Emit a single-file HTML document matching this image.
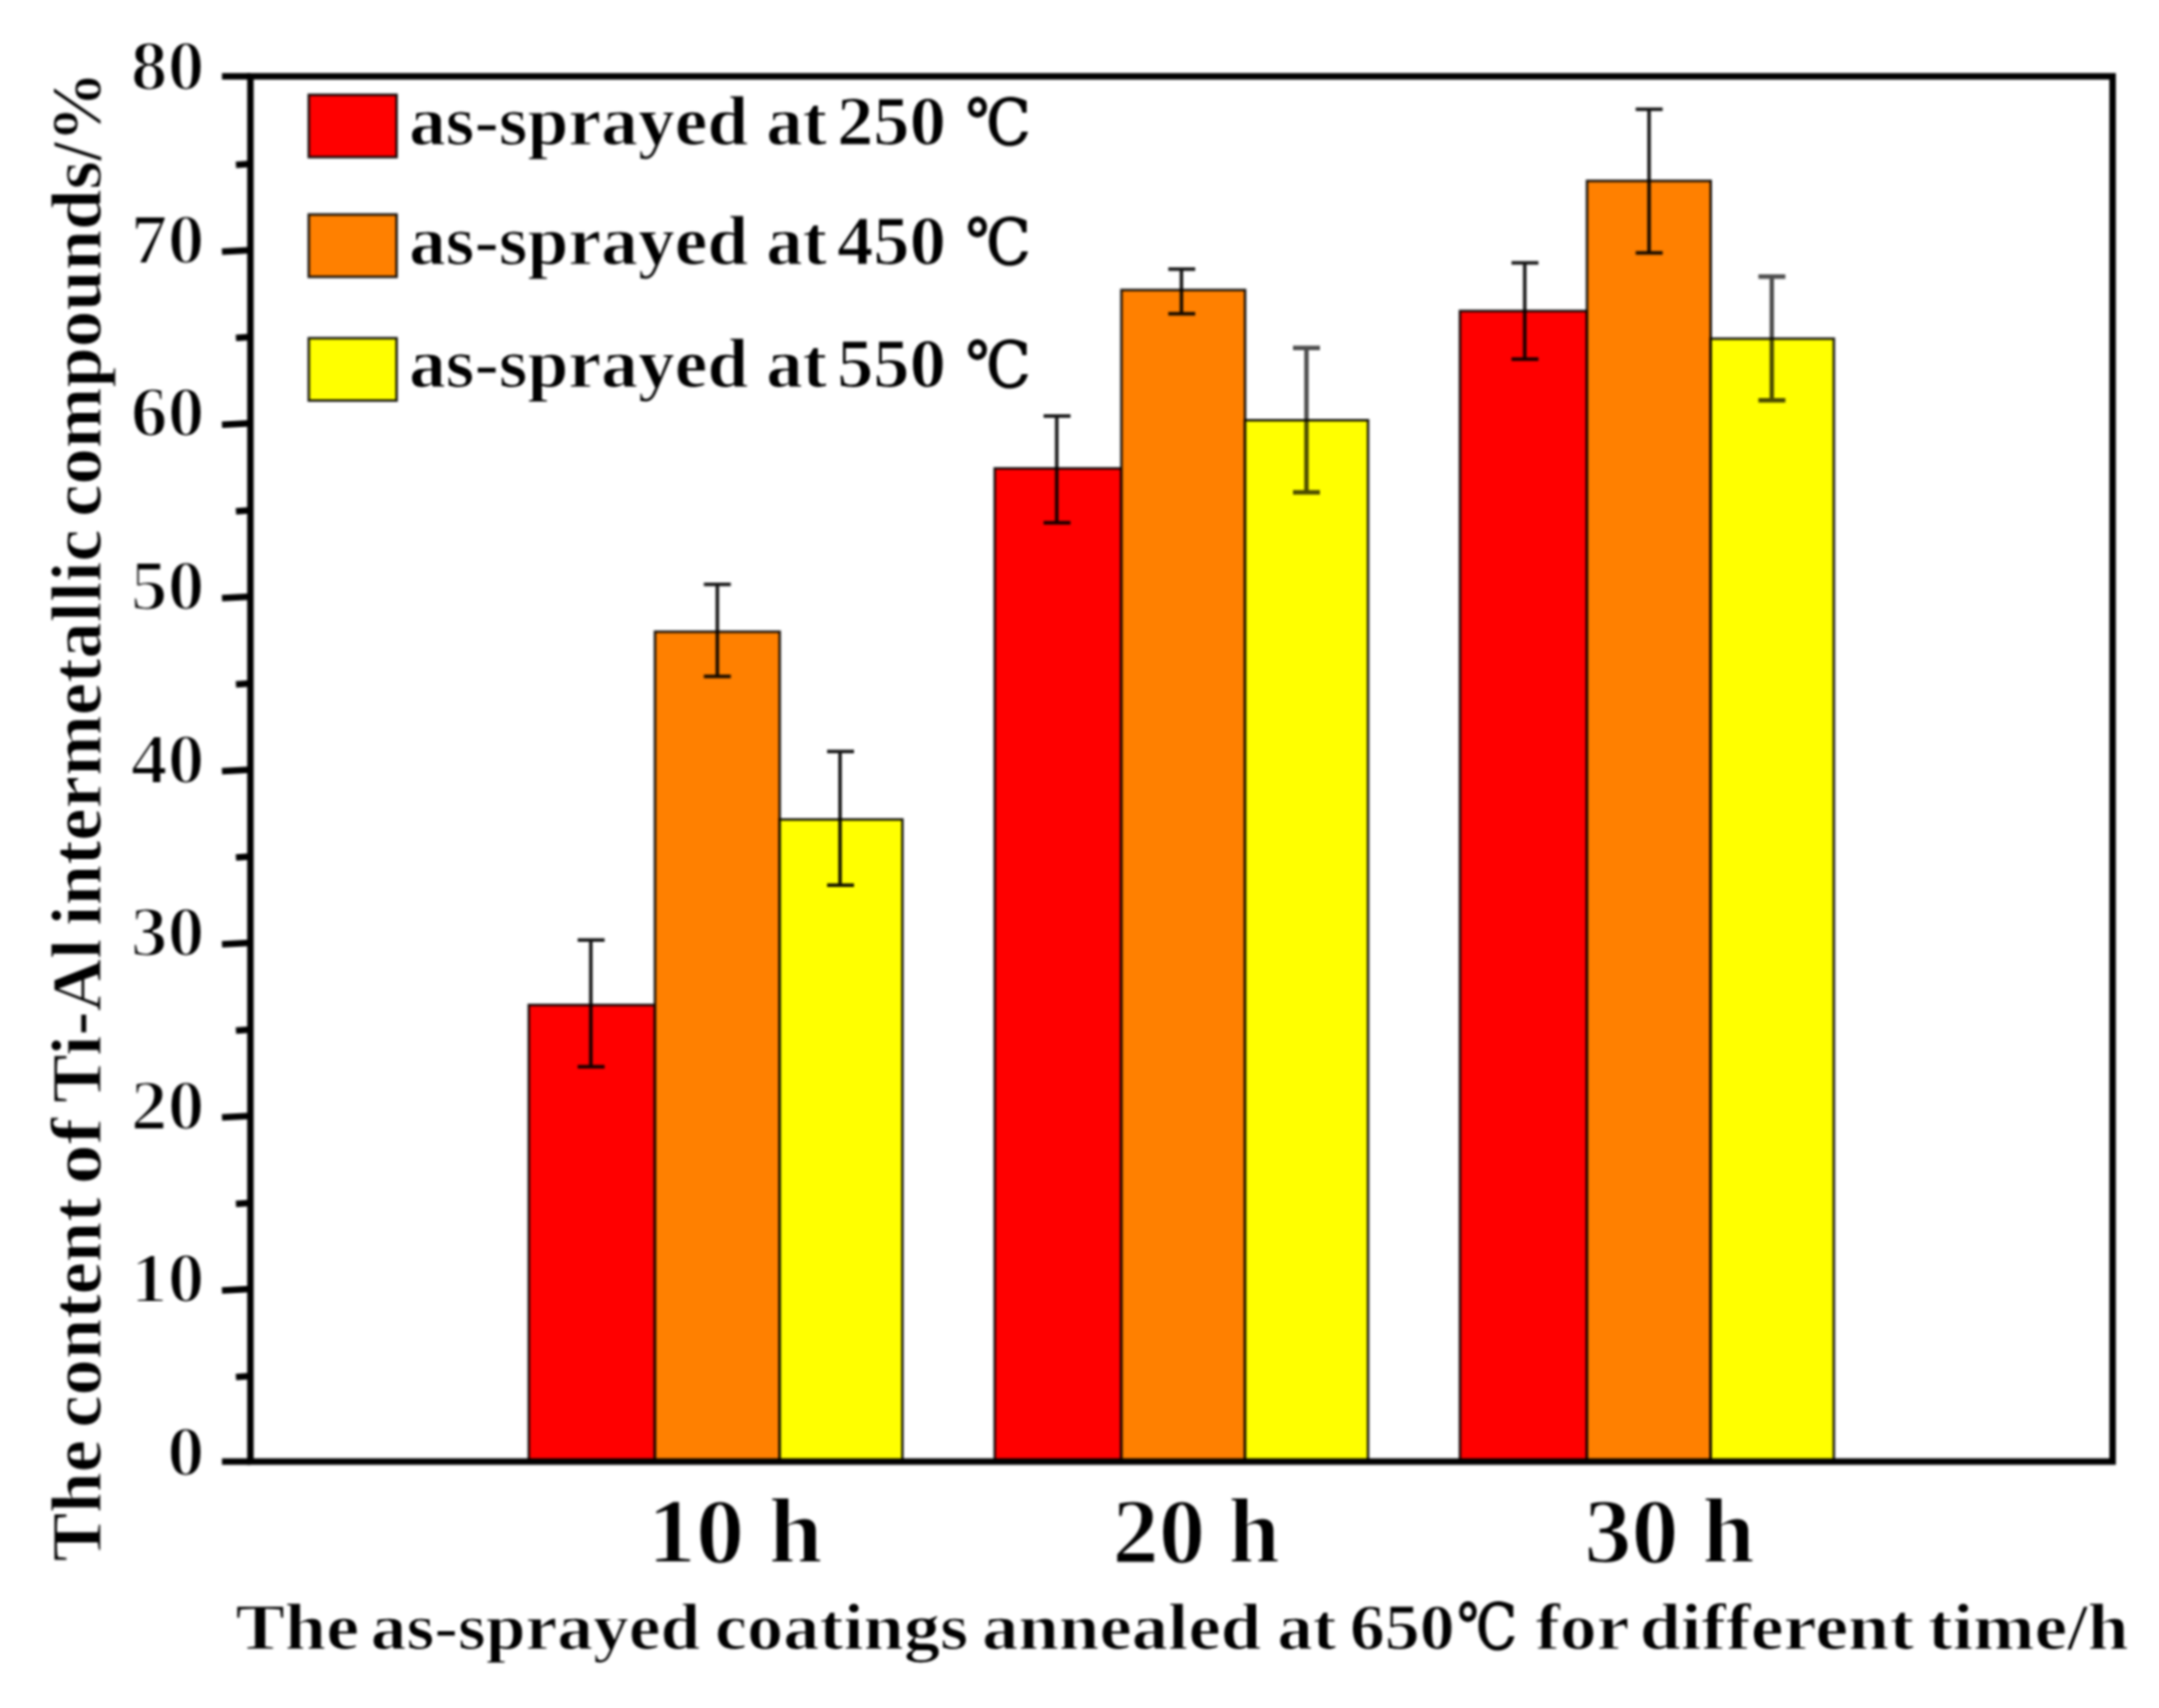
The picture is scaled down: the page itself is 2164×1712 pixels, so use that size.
<!DOCTYPE html>
<html lang="en">
<head>
<meta charset="utf-8">
<title>Ti-Al intermetallic compounds content</title>
<style>
html,body{margin:0;padding:0;background:#fff;}
body{width:2164px;height:1712px;overflow:hidden;}
svg{display:block;filter:blur(0.9px);}
text{font-family:"Liberation Serif","Noto Serif CJK SC",serif;font-weight:bold;fill:#000;stroke:#fff;stroke-width:1.1px;}
.ax{stroke:#000;stroke-width:6.5;fill:none;stroke-linecap:butt;}
.bar{stroke:#000;stroke-opacity:.9;stroke-width:2.5;}
.err{stroke:#000;stroke-opacity:.92;stroke-width:3.5;fill:none;}
.err .g{stroke-opacity:.7;stroke-width:4.4;}
.tl{font-size:71px;text-anchor:end;}
.tl text{stroke-width:2.2px;}
.xl{font-size:93px;}
.xl text{stroke-width:1.8px;}
.ti{font-size:66px;}
.lg{font-size:70px;}
.dc{font-family:"DejaVu Serif","Noto Serif CJK SC",serif;font-weight:normal;font-size:64px;stroke:#000;stroke-width:1.3px;}
</style>
</head>
<body>
<svg width="2164" height="1712" viewBox="0 0 2164 1712">
<rect x="0" y="0" width="2164" height="1712" fill="#fff"/>

<!-- bars -->
<g id="bars">
<rect class="bar" x="530" y="1007.3" width="126.5" height="457.7" fill="#ff0000"/>
<rect class="bar" x="656.5" y="633.2" width="125" height="831.8" fill="#ff8000"/>
<rect class="bar" x="781.5" y="821.4" width="123" height="643.6" fill="#ffff00"/>

<rect class="bar" x="997" y="469.5" width="127" height="995.5" fill="#ff0000"/>
<rect class="bar" x="1124" y="290.7" width="124" height="1174.3" fill="#ff8000"/>
<rect class="bar" x="1248" y="421.2" width="123.2" height="1043.8" fill="#ffff00"/>

<rect class="bar" x="1463.3" y="311.7" width="127.4" height="1153.3" fill="#ff0000"/>
<rect class="bar" x="1590.7" y="181.3" width="124" height="1283.7" fill="#ff8000"/>
<rect class="bar" x="1714.7" y="339.5" width="123.4" height="1125.5" fill="#ffff00"/>
</g>

<!-- error bars -->
<g id="errs" class="err">
<path d="M592.2 942.3V1069.2M579 942.3H606M579 1069.2H606"/>
<path d="M719 585.8V678M705.5 585.8H732.5M705.5 678H732.5"/>
<path d="M842 753.2V887.3M829 753.2H856M829 887.3H856"/>

<path d="M1059.2 417.1V524M1046 417.1H1073M1046 524H1073"/>
<path d="M1184.2 269.7V314.6M1171 269.7H1198M1171 314.6H1198"/>
<path class="g" d="M1309.5 348.8V493.5M1296 348.8H1323M1296 493.5H1323"/>

<path d="M1528.3 263.6V360M1515 263.6H1542M1515 360H1542"/>
<path d="M1652.9 109.4V253.5M1639.5 109.4H1666.5M1639.5 253.5H1666.5"/>
<path class="g" d="M1775.9 277.3V401.2M1762.5 277.3H1789.5M1762.5 401.2H1789.5"/>
</g>

<!-- axes frame -->
<rect class="ax" x="251" y="76.5" width="1866.5" height="1388.5"/>
<!-- y ticks -->
<g class="ax">
<path d="M222.5 76.5H251M222.5 1465H251M222.5 252.3L251 250.8M222.5 425.8L251 424.3M222.5 599.4L251 597.9M222.5 773.0L251 771.5M222.5 946.5L251 945.0M222.5 1120.1L251 1118.6M222.5 1293.6L251 1292.1"/>
<path d="M236.5 165.3L251 164.3M236.5 338.8L251 337.8M236.5 512.4L251 511.4M236.5 686.0L251 685.0M236.5 859.5L251 858.5M236.5 1033.1L251 1032.1M236.5 1206.7L251 1205.7M236.5 1380.2L251 1379.2"/>
</g>

<!-- y tick labels -->
<g class="tl">
<text x="205" y="90.3" textLength="74" lengthAdjust="spacingAndGlyphs">80</text>
<text x="205" y="263.9" textLength="74" lengthAdjust="spacingAndGlyphs">70</text>
<text x="205" y="437.4" textLength="74" lengthAdjust="spacingAndGlyphs">60</text>
<text x="205" y="611.0" textLength="74" lengthAdjust="spacingAndGlyphs">50</text>
<text x="205" y="784.6" textLength="74" lengthAdjust="spacingAndGlyphs">40</text>
<text x="205" y="958.1" textLength="74" lengthAdjust="spacingAndGlyphs">30</text>
<text x="205" y="1131.7" textLength="74" lengthAdjust="spacingAndGlyphs">20</text>
<text x="205" y="1305.2" textLength="74" lengthAdjust="spacingAndGlyphs">10</text>
<text x="205" y="1478.8" textLength="37.5" lengthAdjust="spacingAndGlyphs">0</text>
</g>

<!-- x tick labels -->
<g class="xl">
<text x="649" y="1565.5" textLength="175.5" lengthAdjust="spacingAndGlyphs">10 h</text>
<text x="1115" y="1565.5" textLength="168" lengthAdjust="spacingAndGlyphs">20 h</text>
<text x="1588" y="1565.5" textLength="171" lengthAdjust="spacingAndGlyphs">30 h</text>
</g>

<!-- x axis title -->
<g class="ti">
<text y="1653"><tspan x="236" textLength="124" lengthAdjust="spacingAndGlyphs">The</tspan> <tspan x="371.6" textLength="330.2" lengthAdjust="spacingAndGlyphs">as-sprayed</tspan> <tspan x="716.6" textLength="253.8" lengthAdjust="spacingAndGlyphs">coatings</tspan> <tspan x="984.2" textLength="280" lengthAdjust="spacingAndGlyphs">annealed</tspan> <tspan x="1280.2" textLength="59.2" lengthAdjust="spacingAndGlyphs">at</tspan> <tspan x="1353" textLength="105" lengthAdjust="spacingAndGlyphs">650</tspan><tspan x="1460.6" textLength="60" lengthAdjust="spacingAndGlyphs" class="dc">℃</tspan> <tspan x="1539" textLength="93" lengthAdjust="spacingAndGlyphs">for</tspan> <tspan x="1643.4" textLength="275" lengthAdjust="spacingAndGlyphs">different</tspan> <tspan x="1932.6" textLength="201" lengthAdjust="spacingAndGlyphs">time/h</tspan></text>
</g>

<!-- y axis title -->
<g class="ti" transform="translate(100.5,0) rotate(-90)" style="font-size:72px">
<text y="0"><tspan x="-1565.3" textLength="122.1" lengthAdjust="spacingAndGlyphs">The</tspan> <tspan x="-1431.1" textLength="230.6" lengthAdjust="spacingAndGlyphs">content</tspan> <tspan x="-1187.2" textLength="66.7" lengthAdjust="spacingAndGlyphs">of</tspan> <tspan x="-1105.5" textLength="164.4" lengthAdjust="spacingAndGlyphs">Ti-Al</tspan> <tspan x="-927.9" textLength="397.4" lengthAdjust="spacingAndGlyphs">intermetallic</tspan> <tspan x="-518.1" textLength="356.6" lengthAdjust="spacingAndGlyphs">compounds</tspan><tspan x="-161" textLength="18.5" lengthAdjust="spacingAndGlyphs">/</tspan><tspan x="-142.6" textLength="71" lengthAdjust="spacingAndGlyphs">%</tspan></text>
</g>

<!-- legend -->
<g id="legend">
<rect class="bar" x="309.5" y="95" width="88" height="62.5" fill="#ff0000"/>
<rect class="bar" x="309.5" y="215" width="88" height="62.5" fill="#ff8000"/>
<rect class="bar" x="309.5" y="339" width="88" height="62.5" fill="#ffff00"/>
<g class="lg">
<text y="145"><tspan x="410" textLength="340" lengthAdjust="spacingAndGlyphs">as-sprayed</tspan> <tspan x="768" textLength="61" lengthAdjust="spacingAndGlyphs">at</tspan> <tspan x="839" textLength="109" lengthAdjust="spacingAndGlyphs">250</tspan> <tspan x="968" textLength="65" lengthAdjust="spacingAndGlyphs" class="dc">℃</tspan></text>
<text y="265"><tspan x="410" textLength="340" lengthAdjust="spacingAndGlyphs">as-sprayed</tspan> <tspan x="768" textLength="61" lengthAdjust="spacingAndGlyphs">at</tspan> <tspan x="839" textLength="109" lengthAdjust="spacingAndGlyphs">450</tspan> <tspan x="968" textLength="65" lengthAdjust="spacingAndGlyphs" class="dc">℃</tspan></text>
<text y="388"><tspan x="410" textLength="340" lengthAdjust="spacingAndGlyphs">as-sprayed</tspan> <tspan x="768" textLength="61" lengthAdjust="spacingAndGlyphs">at</tspan> <tspan x="839" textLength="109" lengthAdjust="spacingAndGlyphs">550</tspan> <tspan x="968" textLength="65" lengthAdjust="spacingAndGlyphs" class="dc">℃</tspan></text>

</g>
</g>
</svg>
</body>
</html>
